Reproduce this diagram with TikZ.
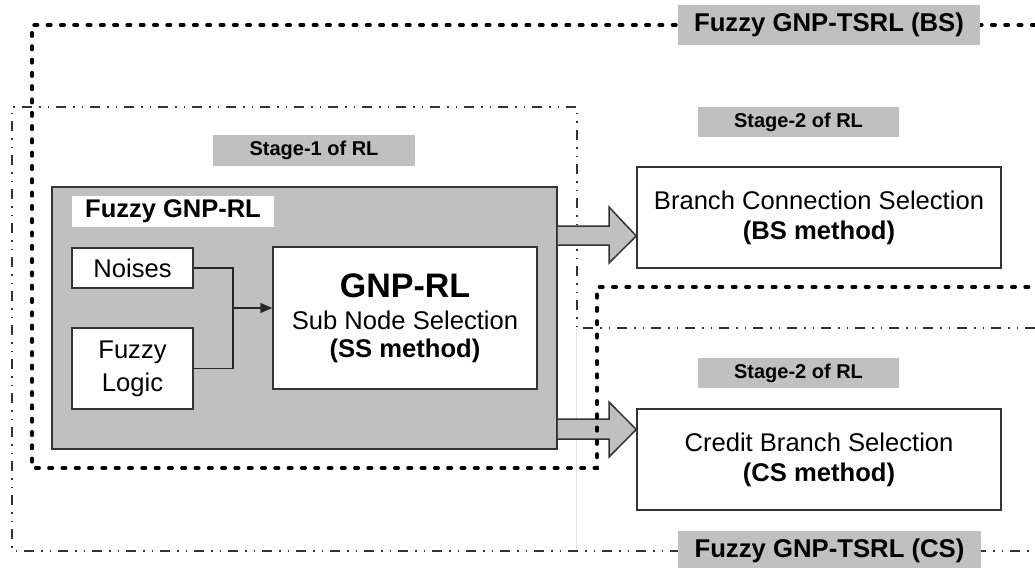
\documentclass[tikz,border=0pt]{standalone}
\usepackage{fontspec}
\setmainfont{Liberation Sans}
\usetikzlibrary{arrows.meta}
\definecolor{panelgray}{HTML}{C0C0C0}
\definecolor{edge}{HTML}{333333}

\begin{document}
\begin{tikzpicture}[x=1pt,y=-1pt,
  box/.style={draw=edge, line width=1.5pt, fill=white, inner sep=0pt, align=center,
              font=\fontsize{25.6}{30}\selectfont},
  panel/.style={draw=edge, line width=1.5pt, fill=panelgray, inner sep=0pt},
  tag/.style={fill=panelgray, inner sep=0pt, font=\bfseries\fontsize{20}{24}\selectfont},
  bigtag/.style={fill=panelgray, inner sep=0pt, font=\bfseries\fontsize{25.7}{30}\selectfont},
  bsline/.style={line width=3.6pt, line cap=round, dash pattern=on 3.4pt off 9.9pt},
  csline/.style={line width=1.2pt, draw=edge, dash pattern=on 10pt off 7pt on 1.5pt off 7pt on 1.5pt off 7pt},
  blockarrow/.style={draw=edge, line width=1.5pt, fill=panelgray, line join=miter},
  link/.style={draw=black!85, line width=1.5pt},
]
\useasboundingbox (0,0) rectangle (1035,567);
\clip (0,0) rectangle (1035,567);
\fill[white] (0,0) rectangle (1035,567);

% region of the CS variant (dash-dot-dot outline)
\draw[csline] (1035,328) -- (577,328) -- (577,107) -- (12,107) -- (12,551) -- (1035,551);
\draw[black!10, line width=0.8pt] (576,329) -- (576,550);

% outer panel and its contents
\node[panel, minimum width=505pt, minimum height=262pt] (fgr) at (304.5,318) {};
\node[fill=white, inner sep=0pt, minimum width=202pt, minimum height=31pt,
      font=\bfseries\fontsize{25.5}{30}\selectfont] (fgrtitle) at (173,211.5) {Fuzzy GNP-RL};
\node[box, minimum width=121pt, minimum height=40pt] (noise) at (132.5,268) {Noises};
\node[box, minimum width=121pt, minimum height=81pt, font=\fontsize{25.6}{33}\selectfont]
      (fuzzy) at (132.5,368.5) {Fuzzy\\Logic};
\node[box, minimum width=264pt, minimum height=142pt] (gnp) at (405,318)
      {{\fontsize{34}{34}\selectfont\bfseries GNP-RL}\\[2pt]
       Sub Node Selection\\[-2pt]
       \textbf{(SS method)}};

\coordinate (join) at (233,308);
\draw[link] (noise.east) -- (join |- noise.east) -- (join |- fuzzy.east) -- (fuzzy.east);
\draw[link, -{Triangle[length=12pt,width=10pt]}] (join) -- (gnp.west |- join);

% stage-2 selection methods
\node[box, minimum width=364pt, minimum height=101pt] (branch) at (819,217.5)
      {Branch Connection Selection\\\textbf{(BS method)}};
\node[box, minimum width=364pt, minimum height=101pt] (credit) at (819,459.5)
      {Credit Branch Selection\\\textbf{(CS method)}};

% block arrows from the panel to both methods
\filldraw[blockarrow] (fgr.east |- 0,226) -- (609,226) -- (609,207) -- (branch.west |- 0,236)
      -- (609,263) -- (609,245) -- (fgr.east |- 0,245);
\filldraw[blockarrow] (fgr.east |- 0,419) -- (609,419) -- (609,402) -- (credit.west |- 0,429.5)
      -- (609,457) -- (609,439) -- (fgr.east |- 0,439);

% region of the BS variant (heavy dashed outline)
\draw[bsline] (1035,25) -- (32,25) -- (32,468) -- (597,468) -- (597,287) -- (1035,287);

% stage and variant labels
\node[tag, minimum width=202pt, minimum height=31pt] (stage1) at (314,150.5) {Stage-1 of RL};
\node[tag, minimum width=201pt, minimum height=30pt] (stage2a) at (798.5,122) {Stage-2 of RL};
\node[tag, minimum width=201pt, minimum height=30pt] (stage2b) at (798.5,373) {Stage-2 of RL};
\node[bigtag, minimum width=302pt, minimum height=40pt] (tsrlbs) at (829,25) {Fuzzy GNP-TSRL (BS)};
\node[bigtag, minimum width=303pt, minimum height=40pt] (tsrlcs) at (829.5,551) {Fuzzy GNP-TSRL (CS)};
\end{tikzpicture}
\end{document}
